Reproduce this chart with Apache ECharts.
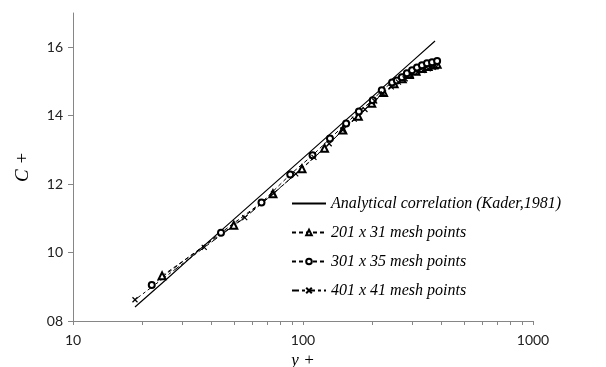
<!DOCTYPE html>
<html>
<head>
<meta charset="utf-8">
<script src="https://cdn.jsdelivr.net/npm/echarts@6/dist/echarts.min.js"></script>
<style>
  html, body { margin: 0; padding: 0; background: #fff; }
  #chart { width: 606px; height: 367px; }
</style>
</head>
<body>
<div id="chart"></div>
<script>
// Temperature profile C+ against wall distance y+ (log scale)
const seriesNames = [
  'Analytical correlation (Kader,1981)',
  '201 x 31 mesh points',
  '301 x 35 mesh points',
  '401 x 41 mesh points'
];

// Analytical correlation
const kaderY = [18.6, 25, 35, 50, 70, 100, 150, 200, 300, 375];
const kaderC = [8.41, 9.17, 10.05, 10.97, 11.84, 12.76, 13.81, 14.55, 15.60, 16.18];

// 201 x 31 mesh
const mesh201Y = [24.4, 50, 74, 99, 124, 149, 174, 199, 224, 249, 270, 290, 310, 330, 350, 370, 383];
const mesh201C = [9.32, 10.80, 11.72, 12.45, 13.05, 13.58, 13.98, 14.36, 14.68, 14.93, 15.08, 15.20, 15.30, 15.38, 15.44, 15.48, 15.50];

// 301 x 35 mesh
const mesh301Y = [22, 44, 66, 88, 110, 131, 154, 175, 201, 220, 244, 256, 269, 283, 298, 313, 329, 346, 364, 383];
const mesh301C = [9.05, 10.58, 11.46, 12.28, 12.84, 13.33, 13.77, 14.12, 14.45, 14.74, 14.97, 15.03, 15.12, 15.24, 15.33, 15.41, 15.47, 15.53, 15.56, 15.60];

// 401 x 41 mesh
const mesh401Y = [18.6, 37.2, 55.8, 74.4, 93, 111.6, 130, 149, 167, 186, 205, 223, 242, 260, 278, 296, 314, 332, 350, 368, 380];
const mesh401C = [8.62, 10.15, 11.02, 11.72, 12.30, 12.78, 13.18, 13.58, 13.90, 14.18, 14.43, 14.64, 14.84, 14.98, 15.08, 15.18, 15.26, 15.32, 15.37, 15.41, 15.44];

// Tick values
const xTicks = [10, 20, 30, 40, 50, 60, 70, 80, 90, 100, 200, 300, 400, 500, 600, 700, 800, 900, 1000];
const xLabels = [10, 100, 1000];
const yTicks = [8, 10, 12, 14, 16];

const pairs = (xs, ys) => xs.map((x, i) => [x, ys[i]]);

const crossSymbol = 'path://M0,0L10,10M10,0L0,10';
const serifItalic = { fontFamily: 'Liberation Serif', fontStyle: 'italic' };
const axisGray = '#868686';
const clear = 'rgba(0,0,0,0)';

const chart = echarts.init(document.getElementById('chart'), null, { renderer: 'canvas' });
chart.setOption({
  animation: false,
  backgroundColor: '#ffffff',
  grid: { left: 73, right: 73, top: 13, bottom: 46, containLabel: false, outerBoundsMode: 'none' },
  xAxis: {
    type: 'log',
    logBase: 10,
    min: 10,
    max: 1000,
    name: 'y +',
    nameLocation: 'middle',
    nameGap: 31,
    nameTextStyle: Object.assign({ fontSize: 17, color: '#000' }, serifItalic),
    axisLine: { lineStyle: { color: axisGray, width: 1 } },
    axisTick: { show: true, length: 4, customValues: xTicks, lineStyle: { color: axisGray } },
    axisLabel: {
      customValues: xLabels,
      fontFamily: 'Lato', fontSize: 14, color: '#222', margin: 12,
      formatter: v => String(Math.round(v))
    },
    splitLine: { show: false },
    minorTick: { show: false }
  },
  yAxis: {
    type: 'value',
    min: 8,
    max: 17,
    interval: 2,
    name: 'C +',
    nameLocation: 'middle',
    nameGap: 41,
    nameRotate: 90,
    nameTextStyle: Object.assign({ fontSize: 19, color: '#000' }, serifItalic),
    axisLine: { show: true, lineStyle: { color: axisGray, width: 1 } },
    axisTick: { show: true, length: 5, customValues: yTicks, lineStyle: { color: axisGray } },
    axisLabel: {
      customValues: yTicks,
      fontFamily: 'Lato', fontSize: 14, color: '#222', margin: 10,
      formatter: v => String(v).padStart(2, '0')
    },
    splitLine: { show: false }
  },
  legend: {
    orient: 'vertical',
    left: 286,
    top: 190,
    itemWidth: 34,
    itemHeight: 7,
    itemGap: 12,
    textStyle: Object.assign({ fontSize: 16, color: '#000', lineHeight: 17 }, serifItalic),
    data: [
      { name: seriesNames[0], itemStyle: { color: clear, borderColor: clear, borderWidth: 0 } },
      seriesNames[1],
      seriesNames[2],
      seriesNames[3]
    ]
  },
  series: [
    {
      name: seriesNames[0],
      type: 'line',
      data: pairs(kaderY, kaderC),
      showSymbol: false,
      symbol: 'circle',
      lineStyle: { color: '#000', width: 1.2, type: 'solid' },
      itemStyle: { color: '#000' }
    },
    {
      name: seriesNames[1],
      type: 'line',
      data: pairs(mesh201Y, mesh201C),
      symbol: 'emptyTriangle',
      symbolSize: 7,
      lineStyle: { color: '#000', width: 1, type: [4, 3] },
      itemStyle: { color: '#000', borderColor: '#000', borderWidth: 0.8 }
    },
    {
      name: seriesNames[2],
      type: 'line',
      data: pairs(mesh301Y, mesh301C),
      symbol: 'emptyCircle',
      symbolSize: 6,
      lineStyle: { color: '#000', width: 1, type: [4, 3] },
      itemStyle: { color: '#000', borderColor: '#000', borderWidth: 1 }
    },
    {
      name: seriesNames[3],
      type: 'line',
      data: pairs(mesh401Y, mesh401C),
      symbol: crossSymbol,
      symbolSize: 5,
      lineStyle: { color: '#000', width: 1, type: [7, 3, 3, 3] },
      itemStyle: { color: 'transparent', borderColor: '#000', borderWidth: 1.2 }
    }
  ]
});
</script>
</body>
</html>
